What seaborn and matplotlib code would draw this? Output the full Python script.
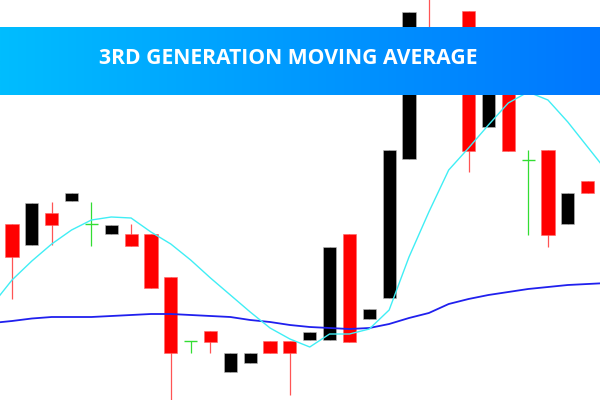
import numpy as np
import pandas as pd
import matplotlib
matplotlib.use("Agg")
import matplotlib.pyplot as plt
import seaborn as sns
from matplotlib.colors import LinearSegmentedColormap

# ---- data (price units) ----
opens  = [176, 155, 187, 199, 176, 166, 166, 166, 123, 59, 69, 28, 37, 59, 59, 60, 60, 166, 81, 102,
          241, 360, 320, 389, 273, 330, 240, 250, 176, 219]
highs  = [176, 197, 198, 207, 198, 175, 176, 166, 123, 59, 69, 47, 47, 59, 59, 68, 153, 166, 91, 250,
          388, 415, 355, 389, 315, 335, 250, 250, 207, 219]
lows   = [101, 155, 155, 199, 154, 166, 154, 112, -5, 47, 47, 28, 37, 47, 5, 60, 60, 58, 81, 102,
          241, 310, 312, 228, 273, 249, 165, 153, 176, 207]
closes = [143, 197, 175, 207, 176, 175, 154, 112, 47, 59, 58, 47, 47, 47, 47, 68, 153, 58, 91, 250,
          388, 325, 345, 249, 315, 249, 240, 165, 207, 207]
kinds  = ["down", "up", "down", "up", "doji", "up", "down", "down", "down", "doji",
          "down", "up", "up", "down", "down", "up", "up", "down", "up", "up",
          "up", "down", "up", "down", "up", "down", "doji", "down", "up", "down"]

ma_x = list(range(-1, 31))
fast_ma = [95, 120, 139, 156, 170, 180, 183, 182, 168, 156, 140, 122, 105, 88, 72, 61, 53, 66, 66, 71,
           90, 143, 188, 230, 252, 275, 297, 308, 300, 278, 253, 228]
slow_ma = [77, 79, 81.5, 83, 83, 83, 84, 85, 86, 86, 85, 84, 83, 80, 78, 75, 73, 72, 71, 72,
           76, 82, 87, 96, 101, 105, 108, 111, 113, 115, 116, 117]

title = "3RD GENERATION MOVING AVERAGE"

# ---- figure ----
sns.set_style("white")
fig = plt.figure(figsize=(6, 4), dpi=100)
ax = fig.add_axes([0, 0, 1, 1])
ax.set_axis_off()

colors = {"up": "#000000", "down": "#ff0000", "doji": "#33dd33"}
wick_colors = {"up": "#555555", "down": "#ff5555", "doji": "#33dd33"}
w = 0.66
for i, (o, h, l, c, k) in enumerate(zip(opens, highs, lows, closes, kinds)):
    ax.vlines(i, l, h, color=wick_colors[k], lw=0.9, zorder=1)
    if k == "doji":
        ax.hlines(o, i - w / 2, i + w / 2, color=colors[k], lw=1.0, zorder=2)
    else:
        ax.bar(i, abs(c - o), bottom=min(o, c), width=w, color=colors[k],
               edgecolor="#bbbbbb" if k == "up" else "#ff6666", linewidth=0.4, zorder=2)

df = pd.DataFrame({"x": ma_x, "fast": fast_ma, "slow": slow_ma})
sns.lineplot(data=df, x="x", y="slow", ax=ax, color="#2020ee", lw=1.3, estimator=None, zorder=3)
sns.lineplot(data=df, x="x", y="fast", ax=ax, color="#40eef5", lw=1.0, estimator=None, zorder=4)

ax.set_xlim(-12 / 19.85, (600 - 12) / 19.85)
ax.set_ylim(0, 400)
ax.set_axis_off()

# ---- banner ----
bax = fig.add_axes([0, 305 / 400, 1, 68 / 400])
cmap = LinearSegmentedColormap.from_list("ban", ["#00bdfe", "#0099ff", "#0077fe"])
grad = np.linspace(0, 1, 256).reshape(1, -1)
bax.imshow(grad, aspect="auto", cmap=cmap, extent=(0, 1, 0, 1))
bax.set_axis_off()
fig.text(0.481, (400 - 58.5) / 400, title, ha="center", va="center",
         fontsize=15.2, fontweight="bold", color="white", family=["Open Sans", "DejaVu Sans"])

fig.savefig("out.png", dpi=100)
